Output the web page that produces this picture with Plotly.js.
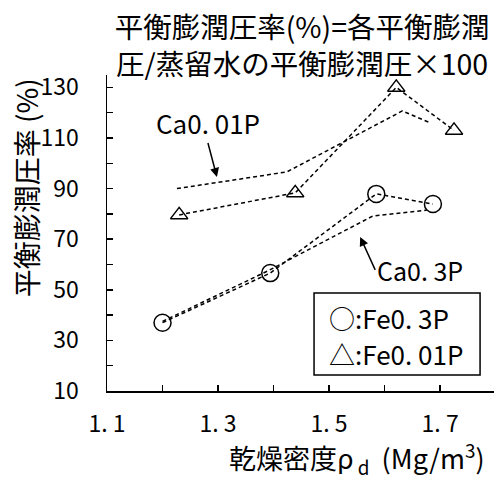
<!DOCTYPE html>
<html>
<head>
<meta charset="utf-8">
<script src="https://cdn.plot.ly/plotly-3.0.1.min.js"></script>
<style>html,body{margin:0;padding:0;background:#fff;}</style>
</head>
<body>
<div id="chart" style="width:494px;height:479px;"></div>
<script>
// Fe0.3P (circles)
const fe03X = [1.20, 1.394, 1.585, 1.687];
const fe03Y = [37, 56.6, 87.9, 83.9];
// Fe0.01P (triangles)
const fe001X = [1.23, 1.439, 1.621, 1.725];
const fe001Y = [79.6, 88.3, 130, 113];
// Ca0.01P (line only)
const ca001X = [1.226, 1.424, 1.632, 1.682];
const ca001Y = [90, 96.6, 120.7, 116];
// Ca0.3P (line only)
const ca03X = [1.20, 1.39, 1.579, 1.676];
const ca03Y = [37.5, 57.5, 79.2, 81.5];

const yTickVals = [10, 30, 50, 70, 90, 110, 130];
const yTickText = ['10', '30', '50', '70', '90', '110', '130'];
const xTickVals = [1.1, 1.3, 1.5, 1.7];
const xTickText = ['1. 1', '1. 3', '1. 5', '1. 7'];

const titleText = '平衡膨潤圧率(%)=各平衡膨潤<br>圧/蒸留水の平衡膨潤圧×100';
const yTitle = '平衡膨潤圧率 (%)';
const xTitle = '乾燥密度ρ<sub> d</sub>  (Mg/m<sup>3</sup>)';
const legendLine1 = '○:Fe0. 3P';
const legendLine2 = '△:Fe0. 01P';
const labelCa001 = 'Ca0. 01P';
const labelCa03 = 'Ca0. 3P';

const FONT = '"Noto Sans CJK JP", sans-serif';

const dashLine = {color:'black', width:1.5, dash:'4px,3px'};

const traces = [
  {x: ca001X, y: ca001Y, mode:'lines', line: dashLine, name:'Ca0.01P'},
  {x: ca03X, y: ca03Y, mode:'lines', line: dashLine, name:'Ca0.3P'},
  {x: fe03X, y: fe03Y, mode:'lines+markers', line: dashLine, name:'Fe0.3P',
   marker:{symbol:'circle-open', size:17, color:'black', line:{width:1.5, color:'black'}}},
  {x: fe001X, y: fe001Y, mode:'lines+markers', line: dashLine, name:'Fe0.01P',
   marker:{symbol:'triangle-up-open', size:15, color:'black', line:{width:1.5, color:'black'}}}
];

const layout = {
  width:494, height:479,
  margin:{l:107, r:0, t:75, b:88},
  paper_bgcolor:'white', plot_bgcolor:'white',
  showlegend:false,
  font:{family:FONT, color:'black', size:22},
  title:{text:titleText, xref:'paper', x:0.504, xanchor:'center',
         yref:'paper', y:1.101, yanchor:'middle', font:{family:FONT, size:28.5}},
  xaxis:{
    range:[1.1, 1.797], tickmode:'array', tickvals:xTickVals, ticktext:xTickText,
    ticks:'inside', ticklen:6, tickwidth:1.5, tickcolor:'black',
    minor:{tick0:1.1, dtick:0.1, ticks:'inside', ticklen:6, tickwidth:1.5, tickcolor:'black', showgrid:false},
    showline:true, linecolor:'black', linewidth:1.5, showgrid:false, zeroline:false,
    tickfont:{family:FONT, size:23}, ticklabelstandoff:12
  },
  yaxis:{
    range:[10, 134.9], tickmode:'array', tickvals:yTickVals, ticktext:yTickText,
    ticks:'inside', ticklen:6, tickwidth:1.5, tickcolor:'black',
    minor:{tick0:10, dtick:10, ticks:'inside', ticklen:6, tickwidth:1.5, tickcolor:'black', showgrid:false},
    showline:true, linecolor:'black', linewidth:1.5, showgrid:false, zeroline:false,
    tickfont:{family:FONT, size:23}, ticklabelstandoff:22
  },
  shapes:[
    {type:'rect', xref:'paper', yref:'paper', x0:0.535, x1:0.964, y0:0.0506, y1:0.310,
     line:{color:'black', width:1.5}, fillcolor:'white', layer:'above'}
  ],
  annotations:[
    {text:yTitle, xref:'paper', yref:'paper', x:-0.209, y:0.642, showarrow:false,
     textangle:-90, xanchor:'center', yanchor:'middle', font:{family:FONT, size:28}},
    {text:xTitle, xref:'paper', yref:'paper', x:0.645, y:-0.212, showarrow:false,
     xanchor:'center', yanchor:'middle', font:{family:FONT, size:27}},
    {text:legendLine1, xref:'paper', yref:'paper', x:0.568, y:0.234, showarrow:false,
     xanchor:'left', yanchor:'middle', font:{family:FONT, size:26}},
    {text:legendLine2, xref:'paper', yref:'paper', x:0.568, y:0.120, showarrow:false,
     xanchor:'left', yanchor:'middle', font:{family:FONT, size:26}},
    {text:labelCa001, x:1.298, y:94.6, xref:'x', yref:'y', showarrow:true, ax:-9, ay:-34,
     xanchor:'center', yanchor:'bottom', font:{family:FONT, size:26},
     arrowhead:2, arrowsize:1.2, arrowwidth:1.5, arrowcolor:'black', standoff:0, startstandoff:0},
    {text:labelCa03, x:1.556, y:70.9, xref:'x', yref:'y', showarrow:true, ax:15, ay:33,
     xanchor:'left', yanchor:'middle', font:{family:FONT, size:25},
     arrowhead:2, arrowsize:1.2, arrowwidth:1.5, arrowcolor:'black', standoff:0, startstandoff:0}
  ]
};

Plotly.newPlot('chart', traces, layout, {displayModeBar:false, staticPlot:true});
</script>
</body>
</html>
